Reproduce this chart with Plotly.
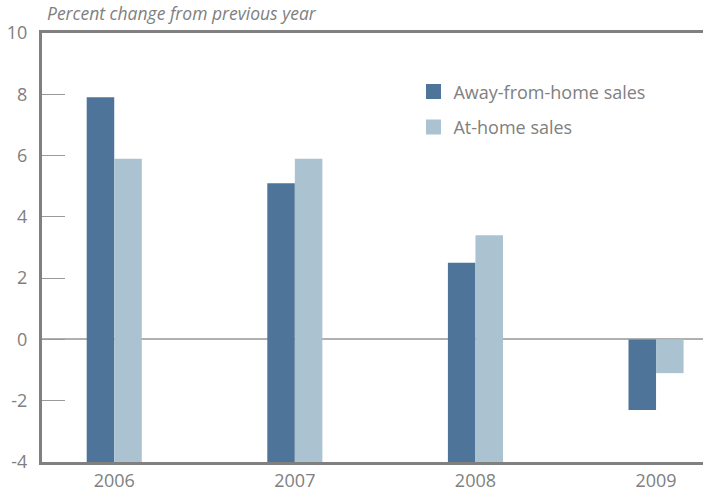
import plotly.graph_objects as go

years = ["2006", "2007", "2008", "2009"]
away_from_home = [7.9, 5.1, 2.5, -2.3]
at_home = [5.9, 5.9, 3.4, -1.1]
y_ticks = [-4, -2, 0, 2, 4, 6, 8, 10]
y_tick_labels = ["-4", "-2", "0", "2", "4", "6", "8", "10"]
series_names = ["Away-from-home sales", "At-home sales"]
colors = ["#4e7499", "#abc2d0"]

y_min, y_max = -4, 10
GRAY = "#808080"
FONT = "Open Sans"

fig = go.Figure()
for i, (name, vals, col) in enumerate(zip(series_names, [away_from_home, at_home], colors)):
    base = [y_min if v > 0 else 0 for v in vals]
    length = [v - b for v, b in zip(vals, base)]
    fig.add_trace(go.Bar(
        x=years, y=length, base=base, name=name,
        marker=dict(color=col, line=dict(width=0)),
        showlegend=False,
    ))
    fig.add_trace(go.Scatter(
        x=[None], y=[None], mode="markers", name=name, legendgroup=f"g{i}",
        marker=dict(symbol="square", size=15, color=col),
        showlegend=True,
    ))

fig.update_layout(
    width=703, height=496,
    margin=dict(l=42, r=0, t=33, b=34),
    paper_bgcolor="white", plot_bgcolor="white",
    barmode="group", bargap=0.695, bargroupgap=0,
    font=dict(family=FONT, color=GRAY, size=16),
    title=dict(
        text="<i>Percent change from previous year</i>",
        x=47 / 703, xanchor="left", xref="container",
        y=1 - 14 / 496, yanchor="middle", yref="container",
        font=dict(family=FONT, size=17.5, color=GRAY),
    ),
    legend=dict(
        x=0.562, y=0.906, xanchor="left", yanchor="top",
        font=dict(family=FONT, size=18, color=GRAY),
        bgcolor="rgba(0,0,0,0)", tracegroupgap=9,
        itemwidth=30,
    ),
    xaxis=dict(
        type="category", range=[-0.4, 3.26],
        showline=True, linecolor=GRAY, linewidth=3, mirror=True,
        showgrid=False, zeroline=False, ticks="",
        tickfont=dict(family=FONT, size=18, color=GRAY),
    ),
    yaxis=dict(
        range=[y_min, y_max], tickvals=y_ticks, ticktext=y_tick_labels,
        showline=True, linecolor=GRAY, linewidth=3,
        showgrid=False, zeroline=True, zerolinecolor="#b0b0b0", zerolinewidth=1.5,
        ticks="inside", ticklen=23, tickcolor="#9a9a9a", tickwidth=1,
        tickfont=dict(family=FONT, size=18, color=GRAY),
        ticklabelstandoff=8,
    ),
)

fig.write_html(
    "out.html",
    config={"displayModeBar": False},
    post_script="document.body.style.margin='0px';document.body.style.overflow='hidden';",
)
